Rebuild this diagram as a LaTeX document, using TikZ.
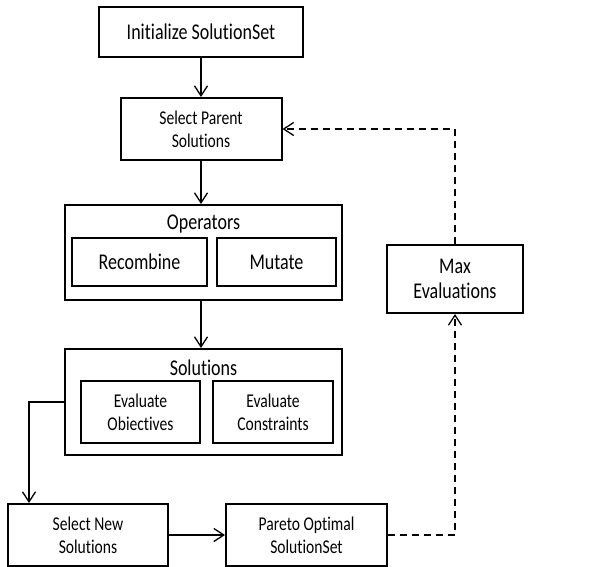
\documentclass[tikz,border=0pt]{standalone}
\usepackage{fontspec}
\setmainfont{Carlito}[FakeStretch=0.8, Ligatures=NoCommon]
\usetikzlibrary{arrows.meta}

\begin{document}
\begin{tikzpicture}[x=1pt,y=-1pt,>={Straight Barb[length=10pt,width=13pt,line width=1.3pt]},
		box/.style={draw, line width=2pt, align=center, inner sep=0pt, font=\fontsize{19.5}{22.7}\selectfont},
		bigbox/.style={box, font=\fontsize{22.5}{25}\selectfont},
		flow/.style={line width=1.3pt, ->},
		loop/.style={flow, dash pattern=on 7pt off 5pt}]
			\useasboundingbox (0,0) rectangle (608,566);

			\node[bigbox, line width=2.4pt, minimum width=204pt, minimum height=50pt] (init) at (201,32) {Initialize SolutionSet};
			\node[box, minimum width=161pt, minimum height=62pt] (parent) at (201,129) {Select Parent\\Solutions};

			\node[box, minimum width=277pt, minimum height=95pt] (ops) at (203.5,252.5) {};
			\node[bigbox, draw=none] (opstitle) at (203.5,224) {Operators};
			\node[bigbox, minimum width=135pt, minimum height=48pt] (recomb) at (139.5,262) {Recombine};
			\node[bigbox, minimum width=119pt, minimum height=48pt] (mutate) at (276.5,262) {Mutate};

			\node[box, minimum width=277pt, minimum height=106pt] (sols) at (203.5,402) {};
			\node[bigbox, draw=none] (solstitle) at (203.5,368) {Solutions};
			\node[box, minimum width=119pt, minimum height=62pt] (evobj) at (140.5,412) {Evaluate\\Obiectives};
			\node[box, minimum width=120pt, minimum height=62pt] (evcon) at (273,412) {Evaluate\\Constraints};

			\node[box, minimum width=160pt, minimum height=62pt] (selnew) at (88,535) {Select New\\Solutions};
			\node[box, minimum width=161pt, minimum height=62pt] (pareto) at (306.5,535) {Pareto Optimal\\SolutionSet};
			\node[bigbox, minimum width=136pt, minimum height=68pt] (maxev) at (455,279) {Max\\Evaluations};

			\draw[flow] (init) -- (parent);
			\draw[flow] (parent.south) -- (parent.south |- ops.north);
			\draw[flow] (parent.south |- ops.south) -- (parent.south |- sols.north);
			\draw[flow] (sols.west) -| ([xshift=22pt]selnew.north west);
			\draw[flow] (selnew) -- (pareto);
			\draw[loop] (pareto.east) -| (maxev.south);
			\draw[loop] (maxev.north) |- (parent.east);
		\end{tikzpicture}
\end{document}
